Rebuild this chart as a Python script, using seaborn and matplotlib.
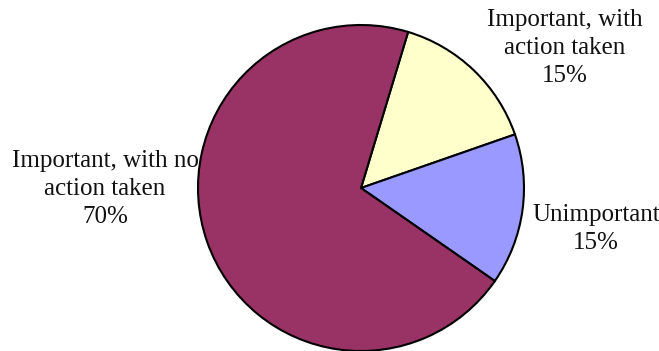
import matplotlib
matplotlib.use("Agg")
import matplotlib.pyplot as plt
import seaborn as sns

categories = ["Important, with\naction taken", "Unimportant", "Important, with no\naction taken"]
values = [15, 15, 70]
colors = ["#FFFFCC", "#9999FF", "#993366"]

sns.set_theme(style="white")
plt.rcParams['font.family'] = ['Liberation Serif', 'DejaVu Serif']

W, H = 659, 351
fig = plt.figure(figsize=(W / 100, H / 100), dpi=100)
cx, cy, r = 361, 188, 163
ax = fig.add_axes([(cx - r) / W, (H - cy - r) / H, 2 * r / W, 2 * r / H])
wedges, _ = ax.pie(values, colors=colors, startangle=73.2, counterclock=False,
                   wedgeprops=dict(edgecolor="black", linewidth=1.5))
for w in wedges:
    w.set_clip_on(False)
ax.set_xlim(-1, 1)
ax.set_ylim(-1, 1)
ax.set_aspect("equal")
ax.axis("off")

label_pos = [(565, 48), (596, 229), (105, 189)]
for cat, v, (px, py) in zip(categories, values, label_pos):
    fig.text(px / W, 1 - py / H, f"{cat}\n{v}%", ha="center", va="center",
             fontsize=18, color="#111111", linespacing=1.36)

fig.savefig("out.png", dpi=100)
